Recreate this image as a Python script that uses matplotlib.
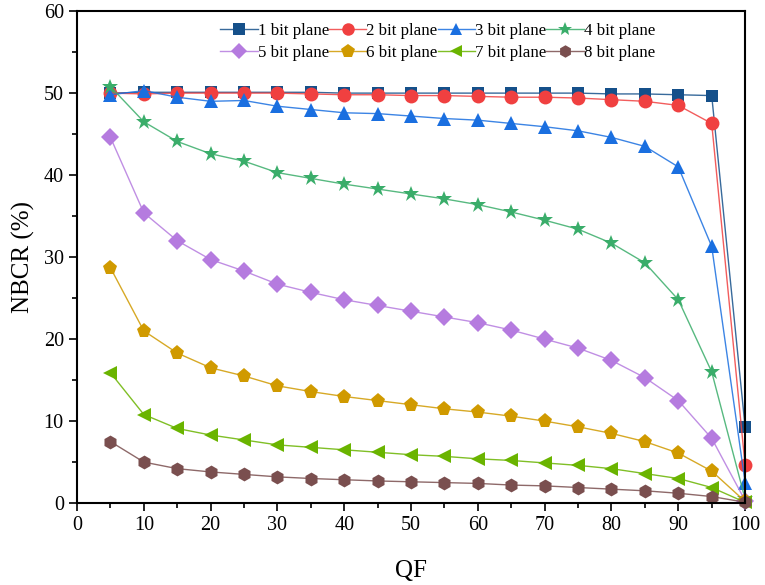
import numpy as np
import matplotlib.pyplot as plt
from matplotlib.ticker import MultipleLocator

plt.rcParams['font.family'] = ['Liberation Serif', 'DejaVu Serif']

qf = [5, 10, 15, 20, 25, 30, 35, 40, 45, 50, 55, 60, 65, 70, 75, 80, 85, 90, 95, 100]

bit1 = [50.0, 50.1, 50.1, 50.1, 50.1, 50.1, 50.1, 50.0, 50.0, 50.0, 50.0, 50.0, 50.0, 50.0, 50.0, 49.9, 49.9, 49.8, 49.7, 9.3]
bit2 = [50.0, 49.9, 50.0, 50.0, 50.0, 50.0, 49.9, 49.8, 49.8, 49.7, 49.7, 49.6, 49.5, 49.5, 49.4, 49.2, 49.0, 48.5, 46.3, 4.6]
bit3 = [49.8, 50.3, 49.5, 49.0, 49.1, 48.4, 48.0, 47.6, 47.5, 47.2, 46.9, 46.7, 46.3, 45.9, 45.4, 44.6, 43.5, 41.0, 31.3, 2.5]
bit4 = [50.8, 46.5, 44.1, 42.6, 41.7, 40.3, 39.6, 38.9, 38.3, 37.7, 37.1, 36.4, 35.5, 34.5, 33.4, 31.7, 29.3, 24.8, 16.0, 0.5]
bit5 = [44.6, 35.4, 32.0, 29.7, 28.3, 26.7, 25.7, 24.8, 24.1, 23.4, 22.7, 22.0, 21.1, 20.0, 18.9, 17.4, 15.3, 12.5, 7.9, 0.3]
bit6 = [28.7, 21.0, 18.3, 16.5, 15.5, 14.3, 13.6, 13.0, 12.5, 12.0, 11.5, 11.1, 10.6, 10.0, 9.3, 8.5, 7.5, 6.1, 3.9, 0.2]
bit7 = [15.9, 10.8, 9.1, 8.3, 7.7, 7.1, 6.8, 6.5, 6.2, 5.9, 5.7, 5.4, 5.2, 4.9, 4.6, 4.2, 3.6, 3.0, 1.9, 0.1]
bit8 = [7.5, 5.0, 4.2, 3.8, 3.5, 3.2, 3.0, 2.85, 2.7, 2.6, 2.5, 2.4, 2.2, 2.1, 1.9, 1.7, 1.5, 1.2, 0.8, 0.1]

series = [bit1, bit2, bit3, bit4, bit5, bit6, bit7, bit8]
labels = ['%d bit plane' % i for i in range(1, 9)]
colors = ['#15508a', '#f04040', '#1a6fe0', '#3aad6a', '#b57bdf', '#d09a00', '#6ab400', '#7a4f4f']
markers = ['s', 'o', '^', '*', 'D', 'p', '<', 'h']
sizes = [9, 10, 10, 12, 9, 11, 10, 10]

fig = plt.figure(figsize=(7.65, 5.85), dpi=100)
ax = fig.add_axes([0.1007, 0.140, 0.8733, 0.841])

# line drawn slightly lighter than its markers, as in the original
handles = []
for ys, lab, c, m, s in zip(series, labels, colors, markers, sizes):
    ln, = ax.plot(qf, ys, color=c, lw=1.0, alpha=0.85, clip_on=False)
    mk, = ax.plot(qf, ys, color=c, marker=m, markersize=s, linestyle='none',
                  markeredgewidth=0, clip_on=False)
    handles.append((ln, mk))

ax.set_xlim(0, 100)
ax.set_ylim(0, 60)
ax.xaxis.set_major_locator(MultipleLocator(10))
ax.xaxis.set_minor_locator(MultipleLocator(5))
ax.yaxis.set_major_locator(MultipleLocator(10))
ax.yaxis.set_minor_locator(MultipleLocator(5))
ax.tick_params(which='both', direction='out', top=False, right=False, labelsize=14.5)
ax.tick_params(which='major', length=6, width=1.2)
ax.tick_params(which='minor', length=3.5, width=1.2)
for sp in ax.spines.values():
    sp.set_linewidth(1.5)

ax.set_xlabel('QF', fontsize=18, labelpad=18)
ax.set_ylabel('NBCR (%)', fontsize=18, labelpad=6)

order = [0, 4, 1, 5, 2, 6, 3, 7]
ax.legend([handles[i] for i in order], [labels[i] for i in order],
          ncol=4, loc='upper center', bbox_to_anchor=(0.54, 1.0),
          frameon=False, fontsize=12.2, handlelength=2.2, handletextpad=0.0,
          columnspacing=0.0, labelspacing=0.35, borderaxespad=0.3,
          markerscale=0.9)

fig.savefig('out.png', dpi=100)
